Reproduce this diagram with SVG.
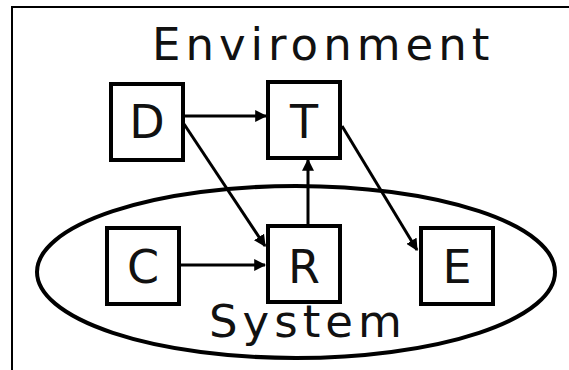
<svg xmlns="http://www.w3.org/2000/svg" width="569" height="370" viewBox="0 0 569 370">
<defs>
<style>
.box{fill:#fff;stroke:#000;stroke-width:4}
.lbl{font-family:"DejaVu Sans",Verdana,sans-serif;font-size:46px;fill:#111;text-anchor:middle}
.title{font-family:"DejaVu Sans",Verdana,sans-serif;font-size:45px;fill:#111;letter-spacing:5px}
.con{stroke:#000;stroke-width:3;fill:none;marker-end:url(#ah)}
</style>
<marker id="ah" viewBox="0 0 10 10" refX="9" refY="5" markerWidth="4" markerHeight="4" orient="auto" markerUnits="strokeWidth">
<path d="M0,0 L10,5 L0,10 z" fill="#000"/>
</marker>
</defs>
<rect width="569" height="370" fill="#fff"/>
<polyline points="12,370 12,7 569,7" fill="none" stroke="#000" stroke-width="2"/>
<text class="title" x="152" y="60">Environment</text>
<g id="system">
<ellipse cx="296" cy="272" rx="259" ry="86" fill="none" stroke="#000" stroke-width="4"/>
<text class="title" x="209" y="337">System</text>
</g>
<g id="connectors">
<line class="con" x1="184" y1="116" x2="266" y2="116"/>
<line class="con" x1="184" y1="124" x2="265" y2="246"/>
<line class="con" x1="308" y1="225" x2="308" y2="160"/>
<line class="con" x1="181" y1="265" x2="265" y2="265"/>
<line class="con" x1="342" y1="126" x2="417" y2="250"/>
</g>
<g id="D"><rect class="box" x="111" y="84" width="72" height="76"/><text class="lbl" x="147" y="138">D</text></g>
<g id="T"><rect class="box" x="268" y="82" width="72" height="76"/><text class="lbl" x="304" y="138">T</text></g>
<g id="C"><rect class="box" x="107" y="228" width="72" height="76"/><text class="lbl" x="143" y="283">C</text></g>
<g id="R"><rect class="box" x="268" y="226" width="72" height="76"/><text class="lbl" x="304" y="283">R</text></g>
<g id="E"><rect class="box" x="421" y="228" width="72" height="76"/><text class="lbl" x="457" y="283">E</text></g>
</svg>
